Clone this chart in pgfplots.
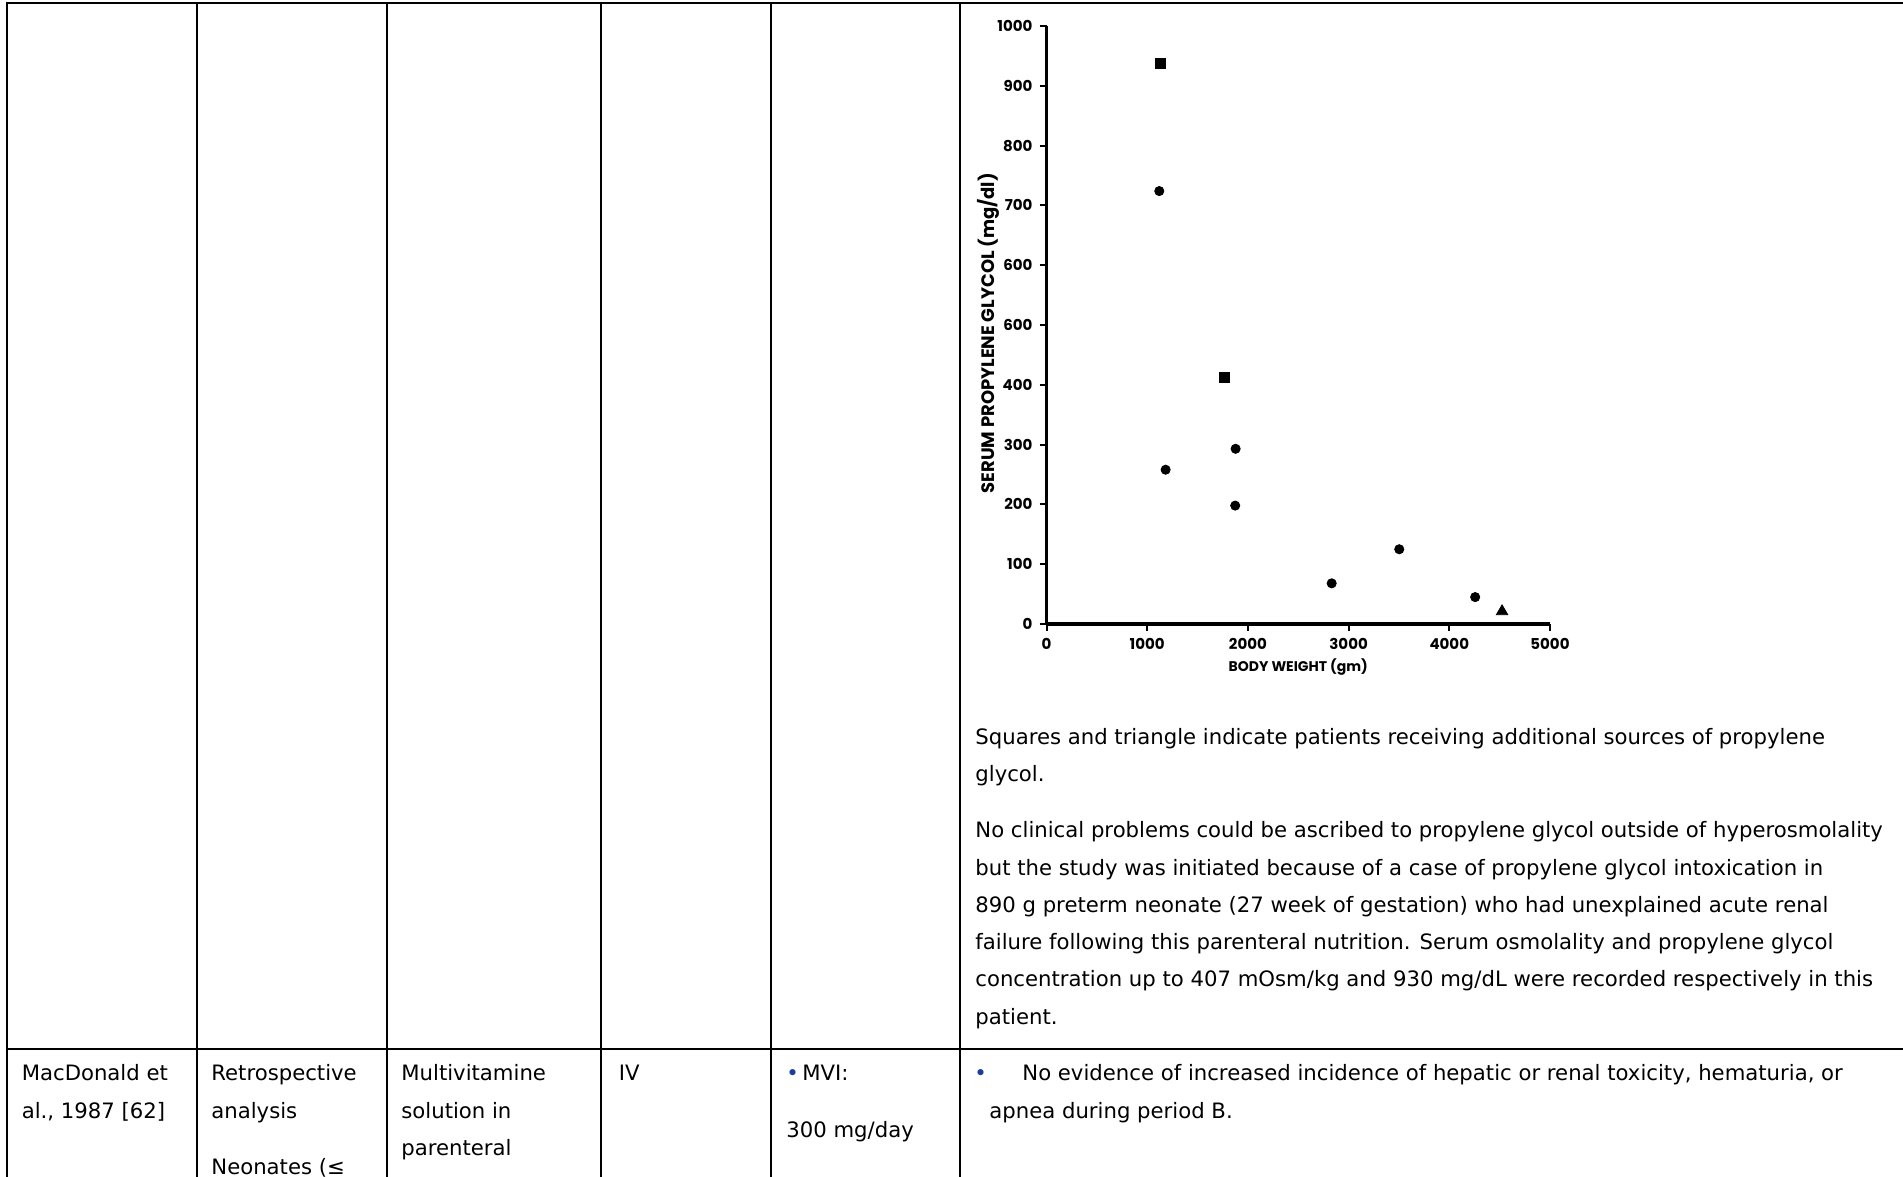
\documentclass[border=0pt]{standalone}
\usepackage{pgfplots}
\pgfplotsset{compat=1.18}
\usepackage{fontspec}
\setmainfont{DejaVu Sans}
\newfontfamily\chartfont{Poppins}
\definecolor{bul}{RGB}{30,60,160}
\newcommand\bodyfont{\fontsize{10.6}{12}\selectfont}
\newcommand\chartlab{\chartfont\bfseries\fontsize{7}{8}\selectfont}
\newcommand\ticklab{\chartfont\bfseries\fontsize{7.5}{8}\selectfont}

\begin{document}
\begin{tikzpicture}
\begin{scope}[x=0.5pt,y=-0.5pt]
\useasboundingbox (0,0) rectangle (1903,1177);
% table rules
\draw[line width=1pt] (6.7,2.7) -- (1903,2.7);
\foreach \xx in {6.7,196.7,386.5,600.5,770.6,959.5} \draw[line width=1pt] (\xx,2.2) -- (\xx,1177);
\draw[line width=1pt] (6.7,1049) -- (1903,1049);
% right cell text
\begin{scope}[every node/.style={anchor=base west, inner sep=0pt, font=\bodyfont}]
\node at (975,744) {Squares and triangle indicate patients receiving additional sources of propylene};
\node at (975,781.7) {glycol.};
\node at (975,837.5) {No clinical problems could be ascribed to propylene glycol outside of hyperosmolality};
\node at (975,875.1) {but the study was initiated because of a case of propylene glycol intoxication in};
\node at (975,912.7) {890 g preterm neonate (27 week of gestation) who had unexplained acute renal};
\node at (975,949.1) {failure following this parenteral nutrition. Serum osmolality and propylene glycol};
\node at (975,986.8) {concentration up to 407 mOsm/kg and 930 mg/dL were recorded respectively in this};
\node at (975,1024.4) {patient.};
% bottom row
\node at (21.4,1080.5) {MacDonald et};
\node at (21.4,1118.2) {al., 1987 [62]};
\node at (211,1080.5) {Retrospective};
\node at (211,1118.2) {analysis};
\node at (211,1174) {Neonates (≤};
\node at (401,1080.5) {Multivitamine};
\node at (401,1118.2) {solution in};
\node at (401,1155.9) {parenteral};
\node at (618.5,1080.5) {IV};
\node at (786,1080.5) {{\color{bul}\textbullet}\,MVI:};
\node at (786,1137.7) {300 mg/day};
\node at (974,1080.5) {{\color{bul}\textbullet}};
\node at (1022,1080.5) {No evidence of increased incidence of hepatic or renal toxicity, hematuria, or};
\node at (989,1118.2) {apnea during period B.};
\end{scope}
\end{scope}
\begin{axis}[
  at={(523.25pt,-312pt)}, anchor=south west,
  scale only axis, width=251.75pt, height=299pt,
  xmin=0, xmax=5000, ymin=0, ymax=1000,
  axis lines=left,
  axis line style={-, line width=1.7pt, black},
  xtick={0,1000,2000,3000,4000,5000},
  xticklabels={0,1000,2000,3000,4000,5000},
  ytick={0,100,200,300,400,500,600,700,800,900,1000},
  yticklabels={0,100,200,300,400,600,600,700,800,900,1000},
  tick align=outside, major tick length=3.5pt,
  tick style={line width=1pt, black},
  ticklabel style={font=\ticklab},
  xlabel={BODY WEIGHT (gm)},
  ylabel={SERUM PROPYLENE GLYCOL (mg/dl)},
  xlabel style={at={(axis description cs:0.5,-0.0716)}, anchor=center, font=\chartlab},
  ylabel style={at={(axis description cs:-0.116,0.486)}, rotate=0, anchor=center, font=\chartfont\bfseries\fontsize{9}{10}\selectfont},
  clip=false,
]
\addplot[only marks, mark=*, mark size=2.3pt, black] coordinates {
(1120,724) (1183,258) (1878,293) (1874,198) (3503,125) (2832,68) (4257,45)
};
\addplot[only marks, mark=square*, mark size=2.5pt, black] coordinates {
(1132,937) (1764,412)
};
\addplot[only marks, mark=triangle*, mark size=3.3pt, black] coordinates {
(4524,21)
};
\end{axis}
\end{tikzpicture}
\end{document}
